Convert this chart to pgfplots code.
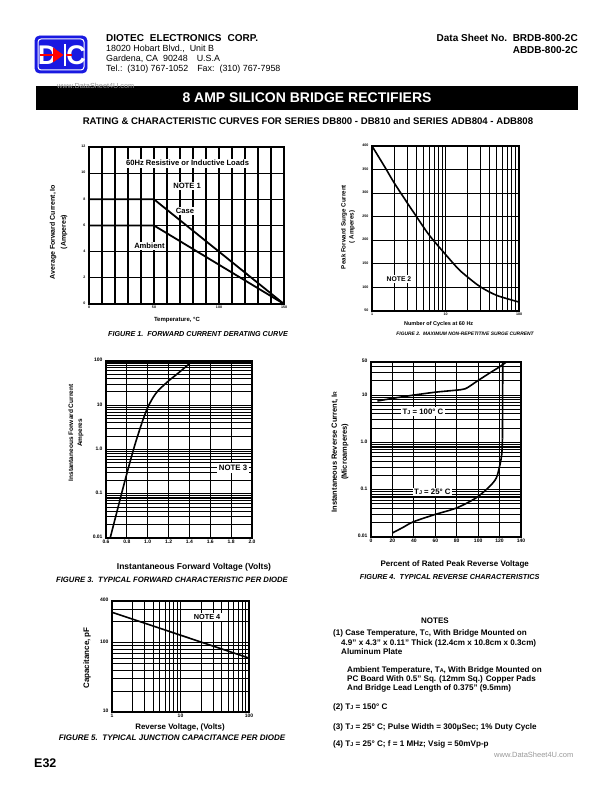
\documentclass[border=0pt]{standalone}
\usepackage{pgfplots}
\pgfplotsset{compat=1.18}
\usepackage{fontspec}
\setmainfont{Liberation Sans}
\newcommand{\fs}[1]{\fontsize{#1bp}{#1bp}\selectfont}
\newcommand{\fsb}[2]{\fontsize{#1bp}{#2bp}\selectfont}
\definecolor{logoblue}{RGB}{25,25,225}
\pgfplotsset{
  dsaxis/.style={
    scale only axis,
    anchor=south west,
    axis line style={line width=2bp},
    grid=both,
    major grid style={line width=1.1bp,black},
    minor grid style={line width=1.1bp,black},
    tick style={draw=none},
    /pgf/number format/assume math mode=true,
    typeset ticklabels with strut,
    ticklabel style={font=\fs{4}\bfseries},
    xticklabel style={yshift=1.5bp},
  }
}
\begin{document}
\begin{tikzpicture}
\path[use as bounding box, fill=white] (0,0) rectangle (612bp,792bp);

%% ---------------- Figure 1 ----------------
\begin{axis}[dsaxis, at={(89bp,488bp)}, width=195bp, height=157bp,
  xmin=0,xmax=150,ymin=0,ymax=12,
  xtick={0,50,100,150}, xticklabels={0,50,100,150},
  minor xtick={10,20,30,40,60,70,80,90,110,120,130,140},
  ytick={0,2,4,6,8,10,12}, yticklabels={0,2,4,6,8,10,12},
  ticklabel style={font=\fs{3.6}\bfseries},
  axis line style={line width=2.4bp},
]
\addplot[line width=1.8bp] coordinates {(0,8)(50,8)(150,0)};
\addplot[line width=1.8bp] coordinates {(0,6)(50,6)(150,0)};
\node[fill=white,font=\fs{7.6}\bfseries,inner sep=1.5bp] at (axis cs:75.8,10.76) {60Hz Resistive or Inductive Loads};
\node[fill=white,font=\fs{7.6}\bfseries,inner sep=1.5bp] at (axis cs:75.4,9.04) {NOTE 1};
\node[fill=white,font=\fs{7.6}\bfseries,inner sep=1bp] at (axis cs:73.8,7.1) {Case};
\node[fill=white,font=\fs{7.6}\bfseries,inner sep=1bp] at (axis cs:46.5,4.43) {Ambient};
\end{axis}

%% ---------------- Figure 2 ----------------
\begin{axis}[dsaxis, at={(372bp,481bp)}, width=147bp, height=165bp,
  xmode=log, xmin=1,xmax=100,ymin=50,ymax=400,
  xtick={1,10,100}, xticklabels={1,10,100},
  minor xtick={2,3,4,5,6,7,8,9,20,30,40,50,60,70,80,90},
  ytick={50,100,150,200,250,300,350,400}, yticklabels={50,100,150,200,250,300,350,400},
  ticklabel style={font=\fs{3.6}\bfseries},
]
\addplot[line width=1.6bp, smooth] coordinates {(1,400)(1.5,355)(2,322)(3,280)(4,251)(6,211)(10,170)(15,139)(20,122)(30,101)(50,83)(100,69)};
\node[fill=white,font=\fs{6.8}\bfseries,inner sep=1.5bp] at (axis cs:2.33,118) {NOTE 2};
\end{axis}

%% ---------------- Figure 3 ----------------
\begin{axis}[dsaxis, at={(106bp,254bp)}, width=146bp, height=177bp,
  ymode=log, xmin=0.6,xmax=2.0,ymin=0.01,ymax=100,
  xtick={0.6,0.8,1.0,1.2,1.4,1.6,1.8,2.0}, xticklabels={0.6,0.8,1.0,1.2,1.4,1.6,1.8,2.0},
  ytick={0.01,0.1,1,10,100}, yticklabels={0.01,0.1,1.0,10,100},
  minor ytick={0.02,0.03,0.04,0.05,0.06,0.07,0.08,0.09,0.2,0.3,0.4,0.5,0.6,0.7,0.8,0.9,2,3,4,5,6,7,8,9,20,30,40,50,60,70,80,90},
  ticklabel style={font=\fs{5}\bfseries},
]
\addplot[line width=1.6bp, smooth] coordinates {(0.64,0.01)(0.7,0.0355)(0.76,0.126)(0.82,0.427)(0.88,1.35)(0.94,3.72)(0.97,5.9)(1.0,8.91)(1.05,14.8)(1.1,21.4)(1.2,35.5)(1.3,55)(1.43,100)};
\node[fill=white,font=\fs{7.8}\bfseries,inner sep=2bp] at (axis cs:1.818,0.38) {NOTE 3};
\end{axis}

%% ---------------- Figure 4 ----------------
\begin{axis}[dsaxis, at={(371bp,255bp)}, width=150bp, height=175bp,
  ymode=log, xmin=0,xmax=140,ymin=0.01,ymax=50,
  xtick={0,20,40,60,80,100,120,140}, xticklabels={0,20,40,60,80,100,120,140},
  ytick={0.01,0.1,1,10,50}, yticklabels={0.01,0.1,1.0,10,50},
  minor ytick={0.02,0.03,0.04,0.05,0.06,0.07,0.08,0.09,0.2,0.3,0.4,0.5,0.6,0.7,0.8,0.9,2,3,4,5,6,7,8,9,20,30,40},
  ticklabel style={font=\fs{5}\bfseries},
]
\addplot[line width=1.6bp, smooth] coordinates {(6,7.5)(20,8.5)(40,10)(60,11.5)(75,12.4)(84,13.0)(88,13.6)(92,15.3)(98,19)(110,28.5)(120,39.5)(126,49.5)};
\addplot[line width=1.6bp, smooth] coordinates {(20,0.0122)(30,0.016)(39.4,0.0209)(59.5,0.0298)(79.7,0.041)(98,0.067)(110.7,0.117)(116.9,0.176)(120,0.31)(122,0.55)(122.7,1.2)};
\addplot[line width=1.6bp] coordinates {(122.7,1.2)(123,50)};
\node[fill=white,font=\fs{7.8}\bfseries,inner sep=1.5bp] at (axis cs:48.5,4.47) {T{\fs{5.5}J} = 100° C};
\node[fill=white,font=\fs{7.8}\bfseries,inner sep=1.5bp] at (axis cs:57.3,0.0886) {T{\fs{5.5}J} = 25° C};
\end{axis}

%% ---------------- Figure 5 ----------------
\begin{axis}[dsaxis, at={(112bp,80bp)}, width=137bp, height=111bp,
  xmode=log, ymode=log, xmin=1,xmax=100,ymin=10,ymax=400,
  xtick={1,10,100}, xticklabels={1,10,100},
  minor xtick={2,3,4,5,6,7,8,9,20,30,40,50,60,70,80,90},
  ytick={10,100,400}, yticklabels={10,100,400},
  minor ytick={20,30,40,50,60,70,80,90,200,300},
  ticklabel style={font=\fs{5}\bfseries},
]
\addplot[line width=1.6bp] coordinates {(1,275)(10,128.5)(100,60)};
\node[fill=white,font=\fs{7.3}\bfseries,inner sep=1.5bp] at (axis cs:24.4,235) {NOTE 4};
\end{axis}

\begin{scope}[x=1bp,y=-1bp,yshift=792bp]
%% header / logo
\draw[logoblue, fill=logoblue, rounded corners=4.5bp, line width=0.8bp] (35,36) rectangle (87,73);
\draw[white, line width=1bp, rounded corners=3bp] (38,39) rectangle (84,70);
\node[white,font=\fs{27}\bfseries, inner sep=0] at (47.5,55) {D};
\node[white,font=\fs{27}\bfseries, inner sep=0] at (76,55) {C};
\fill[red] (53,47.5) -- (53,62.5) -- (63.5,55) -- cycle;
\draw[red, line width=1.1bp] (40,55) -- (53,55);
\draw[red, line width=1.1bp] (65,55) -- (72,55);
\draw[white, line width=2bp] (64.5,44) -- (64.5,66);

\node[anchor=base west, font=\fs{10}\bfseries, inner sep=0] at (106,41.8) {DIOTEC\hspace{6bp}ELECTRONICS\hspace{6bp}CORP.};
\node[anchor=base west, font=\fs{8.9}, inner sep=0] at (106,52) {18020 Hobart Blvd.,\ \ Unit B};
\node[anchor=base west, font=\fs{8.9}, inner sep=0] at (106,62) {Gardena, CA\ \ 90248\hspace{9bp}U.S.A};
\node[anchor=base west, font=\fs{8.9}, inner sep=0] at (106,72) {Tel.:\ \ (310) 767-1052\hspace{9bp}Fax:\ \ (310) 767-7958};
\node[anchor=base east, font=\fs{10}\bfseries, inner sep=0] at (578,42) {Data Sheet No.\ \ BRDB-800-2C};
\node[anchor=base east, font=\fs{10}\bfseries, inner sep=0] at (578,53.5) {ABDB-800-2C};

\fill[black] (36,86) rectangle (578,110);
\node[anchor=base west, font=\fs{7.3}, text=black!40, inner sep=0] at (57,88.5) {www.DataSheet4U.com};
\node[font=\fs{14}\bfseries, text=white, inner sep=0] at (307,98) {8 AMP SILICON BRIDGE RECTIFIERS};
\node[font=\fs{9.6}\bfseries, inner sep=0] at (308,121.5) {RATING \& CHARACTERISTIC CURVES FOR SERIES DB800 - DB810 and SERIES ADB804 - ADB808};

%% figure 1 labels
\node[rotate=90, align=center, font={\fsb{7}{11}\bfseries}] at (58.5,232) {Average Forward Current, Io\\(Amperes)};
\node[font=\fs{6}\bfseries] at (177,320) {Temperature, °C};
\node[font=\fs{7.2}\bfseries\itshape] at (198,334) {FIGURE 1.\ \ FORWARD CURRENT DERATING CURVE};

%% figure 2 labels
\node[rotate=90, align=center, font={\fsb{6.2}{8}\bfseries}] at (348,227) {Peak Forward Surge Current\\( Amperes)};
\node[font=\fs{5.5}\bfseries] at (438.7,324.3) {Number of Cycles at 60 Hz};
\node[font=\fs{4.9}\bfseries\itshape] at (465,333.5) {FIGURE 2.\ \ MAXIMUM NON-REPETITIVE SURGE CURRENT};

%% figure 3 labels
\node[rotate=90, align=center, font={\fsb{6.5}{9}\bfseries}] at (76,433) {Instantaneous Forward Current\\Amperes};
\node[font=\fs{8.5}\bfseries] at (194,567) {Instantaneous Forward Voltage (Volts)};
\node[font=\fs{7.7}\bfseries\itshape] at (172,580) {FIGURE 3.\ \ TYPICAL FORWARD CHARACTERISTIC PER DIODE};

%% figure 4 labels
\node[rotate=90, align=center, font={\fsb{7.5}{10}\bfseries}] at (340,452) {Instantaneous Reverse Current, I{\fs{5}R}\\(Microamperes)};
\node[font=\fs{8}\bfseries] at (454.7,564) {Percent of Rated Peak Reverse Voltage};
\node[font=\fs{7.3}\bfseries\itshape] at (449.7,577) {FIGURE 4.\ \ TYPICAL REVERSE CHARACTERISTICS};

%% figure 5 labels
\node[rotate=90, font=\fs{8}\bfseries] at (87,658) {Capacitance, pF};
\node[font=\fs{7.9}\bfseries] at (180,727) {Reverse Voltage, (Volts)};
\node[font=\fs{8}\bfseries\itshape] at (172,738) {FIGURE 5.\ \ TYPICAL JUNCTION CAPACITANCE PER DIODE};

%% notes
\node[font=\fs{8}\bfseries] at (435,621) {NOTES};
\begin{scope}[every node/.style={anchor=base west, font=\fs{8.1}\bfseries, inner sep=0}]
\node at (333,636) {(1) Case Temperature, T{\fs{5.5}C}, With Bridge Mounted on};
\node at (341,645.5) {4.9" x 4.3" x 0.11" Thick (12.4cm x 10.8cm x 0.3cm)};
\node at (341,654.5) {Aluminum Plate};
\node at (347,673) {Ambient Temperature, T{\fs{5.5}A}, With Bridge Mounted on};
\node at (347,682) {PC Board With 0.5" Sq. (12mm Sq.) Copper Pads};
\node at (347,690.5) {And Bridge Lead Length of 0.375" (9.5mm)};
\node at (333,710) {(2) T{\fs{5.5}J} = 150° C};
\node at (333,730) {(3) T{\fs{5.5}J} = 25° C; Pulse Width = 300µSec; 1\% Duty Cycle};
\node at (333,747) {(4) T{\fs{5.5}J} = 25° C; f = 1 MHz; Vsig = 50mVp-p};
\end{scope}
\node[anchor=base west, font=\fs{7.5}, text=black!40, inner sep=0] at (494,758) {www.DataSheet4U.com};

\node[anchor=base west, font=\fs{12.5}\bfseries, inner sep=0] at (34,768) {E32};
\end{scope}
\end{tikzpicture}
\end{document}
